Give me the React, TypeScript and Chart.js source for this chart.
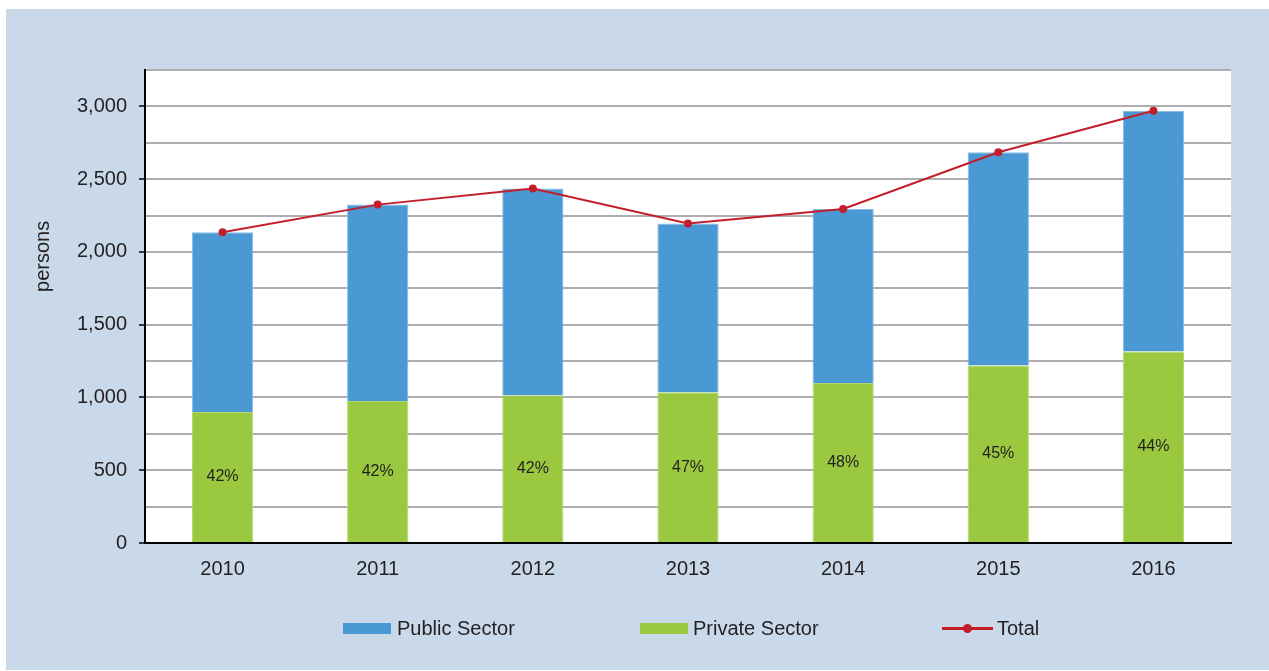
import React, { useEffect, useRef } from "react";
import { Chart, registerables } from "chart.js";

Chart.register(...registerables);

const years = ["2010", "2011", "2012", "2013", "2014", "2015", "2016"];
const publicSector = [1235, 1350, 1420, 1160, 1195, 1465, 1655];
const privateSector = [900, 975, 1015, 1035, 1100, 1220, 1315];
const totalPersons = [2135, 2325, 2435, 2195, 2295, 2685, 2970];
const privateShareLabels = ["42%", "42%", "42%", "47%", "48%", "45%", "44%"];
const yAxisTitle = "persons";
const seriesNames = ["Public Sector", "Private Sector", "Total"];

const FONT = '"Liberation Sans", Arial, Helvetica, sans-serif';
const TEXT = "#231f20";
const BLUE = "#4a99d4";
const GREEN = "#9ac940";
const RED = "#c41e2a";
const BG = "#c9d9ea";
const GRID = "#aeaeb0";

const W = 1263;
const H = 661;

const whiteArea = {
  id: "whiteArea",
  beforeDraw(chart: any) {
    const { ctx, chartArea } = chart;
    ctx.save();
    ctx.fillStyle = "#ffffff";
    ctx.fillRect(chartArea.left, chartArea.top, chartArea.right - chartArea.left, chartArea.bottom - chartArea.top);
    ctx.restore();
  },
};

const yTitlePlugin = {
  id: "yTitlePlugin",
  afterDraw(chart: any) {
    const { ctx, chartArea } = chart;
    ctx.save();
    ctx.translate(chartArea.left - 102, chartArea.top + (chartArea.bottom - chartArea.top) * 0.394);
    ctx.rotate(-Math.PI / 2);
    ctx.font = `20px ${FONT}`;
    ctx.fillStyle = TEXT;
    ctx.textAlign = "center";
    ctx.textBaseline = "middle";
    ctx.fillText(yAxisTitle, 0, 0);
    ctx.restore();
  },
};

const shareLabels = {
  id: "shareLabels",
  afterDatasetsDraw(chart: any) {
    const { ctx } = chart;
    const meta = chart.getDatasetMeta(1);
    ctx.save();
    ctx.font = `16px ${FONT}`;
    ctx.fillStyle = TEXT;
    ctx.textAlign = "center";
    ctx.textBaseline = "middle";
    meta.data.forEach((bar: any, i: number) => {
      const p = bar.getProps(["x", "y", "base"], true);
      ctx.fillText(privateShareLabels[i], p.x, (p.y + p.base) / 2);
    });
    ctx.restore();
  },
};

function Legend() {
  const item: React.CSSProperties = {
    position: "absolute",
    top: 607,
    height: 24,
    display: "flex",
    alignItems: "center",
    font: `20px ${FONT}`,
    color: TEXT,
    whiteSpace: "nowrap",
  };
  return (
    <>
      <div style={{ ...item, left: 337 }}>
        <div style={{ width: 48, height: 11, background: BLUE, marginRight: 6 }} />
        <span>{seriesNames[0]}</span>
      </div>
      <div style={{ ...item, left: 634 }}>
        <div style={{ width: 48, height: 11, background: GREEN, marginRight: 5 }} />
        <span>{seriesNames[1]}</span>
      </div>
      <div style={{ ...item, left: 936 }}>
        <div style={{ position: "relative", width: 51, height: 3, background: RED, marginRight: 4 }}>
          <div
            style={{
              position: "absolute",
              left: 21,
              top: -3,
              width: 9,
              height: 9,
              borderRadius: "50%",
              background: RED,
            }}
          />
        </div>
        <span>{seriesNames[2]}</span>
      </div>
    </>
  );
}

export default function App() {
  const ref = useRef<HTMLCanvasElement | null>(null);

  useEffect(() => {
    if (!ref.current) return;
    const chart = new Chart(ref.current, {
      type: "bar",
      data: {
        labels: years,
        datasets: [
          {
            type: "line",
            label: seriesNames[2],
            data: totalPersons,
            borderColor: RED,
            backgroundColor: RED,
            borderWidth: 2,
            pointRadius: 4,
            pointBackgroundColor: RED,
            pointBorderWidth: 0,
            stack: "total",
            order: 0,
            tension: 0,
          } as any,
          {
            type: "bar",
            label: seriesNames[1],
            data: privateSector,
            backgroundColor: GREEN,
            borderColor: "#b3d873",
            borderWidth: 1,
            stack: "sectors",
            order: 1,
            barPercentage: 0.395,
            categoryPercentage: 1,
          },
          {
            type: "bar",
            label: seriesNames[0],
            data: publicSector,
            backgroundColor: BLUE,
            borderColor: "#86bde8",
            borderWidth: 1,
            stack: "sectors",
            order: 1,
            barPercentage: 0.395,
            categoryPercentage: 1,
          },
        ],
      },
      options: {
        responsive: false,
        maintainAspectRatio: false,
        animation: false,
        devicePixelRatio: 1,
        layout: { padding: { top: 61, right: 38, left: 0, bottom: 0 } },
        plugins: {
          legend: { display: false },
          tooltip: { enabled: false },
          title: { display: false },
        },
        scales: {
          x: {
            stacked: true,
            z: 1,
            grid: { display: false, drawTicks: false },
            border: { display: true, color: "#000000", width: 2 },
            ticks: {
              color: TEXT,
              font: { family: FONT, size: 20 },
              padding: 14,
              maxRotation: 0,
            },
            afterFit: (axis: any) => {
              axis.height = 127;
            },
          },
          y: {
            stacked: true,
            min: 0,
            max: 3250,
            grid: {
              color: (c: any) => (c.tick && c.tick.value === 0 ? "transparent" : GRID),
              lineWidth: 2,
              drawTicks: true,
              tickLength: 6,
              tickWidth: 1.5,
              tickColor: (c: any) => (c.tick && c.tick.value % 500 === 0 ? "#000000" : "transparent"),
            },
            border: { display: true, color: "#000000", width: 2 },
            ticks: {
              stepSize: 250,
              color: TEXT,
              font: { family: FONT, size: 20 },
              padding: 12,
              callback: (v: any) => (Number(v) % 500 === 0 ? Number(v).toLocaleString("en-US") : ""),
            },
            afterFit: (axis: any) => {
              axis.width = 139;
            },
          },
        },
      },
      plugins: [whiteArea, shareLabels, yTitlePlugin],
    });
    return () => chart.destroy();
  }, []);

  return (
    <div
      style={{
        position: "fixed",
        left: 6,
        top: 9,
        width: W,
        height: H,
        background: BG,
      }}
    >
      <canvas ref={ref} width={W} height={H} style={{ display: "block", width: W, height: H }} />
      <Legend />
    </div>
  );
}
